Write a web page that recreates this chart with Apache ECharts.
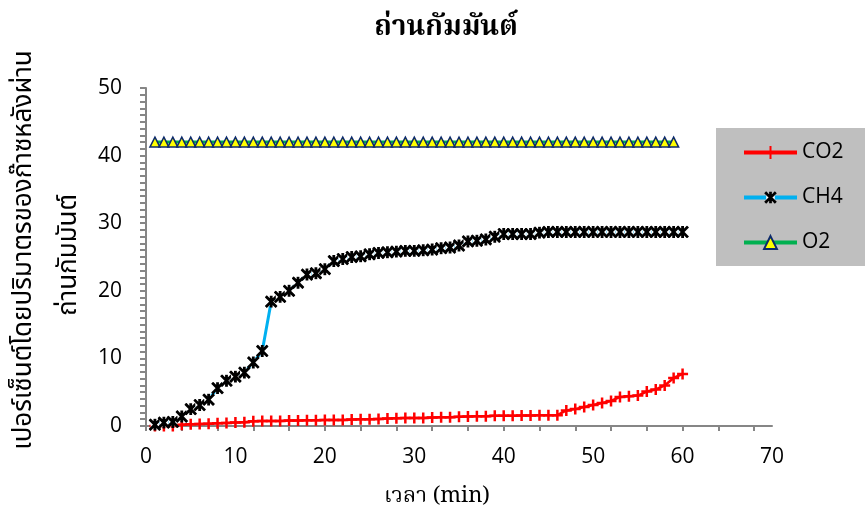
<!DOCTYPE html>
<html>
<head>
<meta charset="utf-8">
<script src="https://cdn.jsdelivr.net/npm/echarts@6/dist/echarts.min.js"></script>
<style>
  html, body { margin: 0; padding: 0; background: #ffffff; }
  #chart { width: 865px; height: 509px; }
</style>
</head>
<body>
<div id="chart"></div>
<script>
// Time axis (minutes) and measured gas volume percentages
const minutes = [1,2,3,4,5,6,7,8,9,10,11,12,13,14,15,16,17,18,19,20,
                 21,22,23,24,25,26,27,28,29,30,31,32,33,34,35,36,37,38,39,40,
                 41,42,43,44,45,46,47,48,49,50,51,52,53,54,55,56,57,58,59,60];

const co2 = [0,0,0,0.2,0.25,0.3,0.35,0.4,0.45,0.5,
             0.55,0.7,0.75,0.75,0.75,0.8,0.8,0.85,0.85,0.9,
             0.9,0.9,0.95,1.0,1.0,1.05,1.1,1.15,1.2,1.2,
             1.2,1.25,1.3,1.3,1.35,1.4,1.45,1.45,1.5,1.5,
             1.5,1.55,1.55,1.6,1.6,1.6,2.3,2.5,2.8,3.1,
             3.4,3.7,4.3,4.4,4.5,5.1,5.4,6.0,7.1,7.7];

const ch4 = [0.2,0.5,0.6,1.4,2.5,3.1,3.9,5.6,6.7,7.3,
             7.9,9.4,11.1,18.4,19.1,20.0,21.2,22.4,22.6,23.2,
             24.4,24.7,25.0,25.1,25.4,25.6,25.7,25.8,25.9,25.9,
             26.0,26.1,26.3,26.4,26.7,27.3,27.4,27.6,28.0,28.4,
             28.4,28.4,28.4,28.6,28.7,28.7,28.7,28.7,28.7,28.7,
             28.7,28.7,28.7,28.7,28.7,28.7,28.7,28.7,28.7,28.7];

const o2 = [42,42,42,42,42,42,42,42,42,42,42,42,42,42,42,42,42,42,42,42,
            42,42,42,42,42,42,42,42,42,42,42,42,42,42,42,42,42,42,42,42,
            42,42,42,42,42,42,42,42,42,42,42,42,42,42,42,42,42,42,42];

// Axis ticks and labels
const xLabels = [0,10,20,30,40,50,60,70];
const xTicks = [0,4,8,12,16,20,24,28,32,36,40,44,48,52,56,60,64,68];
const yLabels = [0,10,20,30,40,50];

const seriesNames = ['CO2', 'CH4', 'O2'];
const chartTitle = 'ถ่านกัมมันต์';
const yTitle1 = 'เปอร์เซ็นต์โดยปริมาตรของก๊าซหลังผ่าน';
const yTitle2 = 'ถ่านกัมมันต์';
const xTitle = 'เวลา (min)';

const pairs = (xs, ys) => ys.map((v, i) => [xs[i], v]);

const thaiSerif = "'Noto Serif Thai','Norasi','Liberation Serif','DejaVu Serif',serif";
const thaiSans = "'Noto Sans Thai','Garuda','Loma','Noto Sans',sans-serif";
const numFont = "'Open Sans','Noto Sans',sans-serif";

// Marker glyphs: plus (CO2), star with a small white backing (CH4)
const svgUrl = (svg) => 'image://data:image/svg+xml;charset=utf-8,' + encodeURIComponent(svg);
const plusSymbol = 'path://M5,0L5,10M0,5L10,5';
const starSymbol = svgUrl(
  "<svg xmlns='http://www.w3.org/2000/svg' width='26' height='26' viewBox='0 0 12 12'>" +
  "<rect x='2' y='2' width='8' height='8' fill='#ffffff'/>" +
  "<path d='M1,1L11,11M11,1L1,11M6,0.5L6,11.5' stroke='#000000' stroke-width='2.6' fill='none'/></svg>");

const chart = echarts.init(document.getElementById('chart'), null, { renderer: 'canvas' });

chart.setOption({
  animation: false,
  backgroundColor: '#ffffff',
  grid: { left: 146, right: 93, top: 88, bottom: 83 },
  graphic: [
    { type: 'text', x: 446, y: 30,
      style: { text: chartTitle, font: "bold 28px " + thaiSerif, fill: '#000',
               textAlign: 'center', textVerticalAlign: 'middle' } },
    { type: 'text', x: 26, y: 250, rotation: Math.PI / 2,
      style: { text: yTitle1, font: "26px " + thaiSans, fill: '#000',
               textAlign: 'center', textVerticalAlign: 'middle' } },
    { type: 'text', x: 71, y: 255, rotation: Math.PI / 2,
      style: { text: yTitle2, font: "26px " + thaiSans, fill: '#000',
               textAlign: 'center', textVerticalAlign: 'middle' } },
    { type: 'text', x: 437, y: 498,
      style: { text: xTitle, font: "22px " + thaiSerif, fill: '#000',
               textAlign: 'center', textVerticalAlign: 'middle' } }
  ],
  legend: {
    data: seriesNames,
    orient: 'vertical',
    left: 716, top: 128,
    backgroundColor: '#bfbfbf',
    padding: [14, 40, 13, 26],
    itemWidth: 53, itemHeight: 16, itemGap: 24,
    lineStyle: { width: 4 },
    textStyle: { fontFamily: numFont, fontSize: 21, lineHeight: 20, color: '#000' }
  },
  xAxis: {
    type: 'value', min: 0, max: 70, interval: 10,
    splitLine: { show: false },
    axisLine: { lineStyle: { color: '#868686', width: 2 } },
    axisTick: { show: true, customValues: xTicks, length: 5, lineStyle: { color: '#868686', width: 2 } },
    axisLabel: { customValues: xLabels, margin: 21, fontFamily: numFont, fontSize: 21, color: '#000' }
  },
  yAxis: {
    type: 'value', min: 0, max: 50, interval: 10,
    splitLine: { show: false },
    axisLine: { show: true, lineStyle: { color: '#868686', width: 2 } },
    axisTick: { show: true, length: 6, lineStyle: { color: '#868686', width: 2 } },
    minorTick: { show: true, splitNumber: 10, length: 6, lineStyle: { color: '#868686', width: 2 } },
    axisLabel: { customValues: yLabels, margin: 24, fontFamily: numFont, fontSize: 21, color: '#000' }
  },
  series: [
    { name: 'CO2', type: 'line', data: pairs(minutes, co2),
      showAllSymbol: true, symbol: plusSymbol, symbolSize: 11,
      lineStyle: { color: '#ff0000', width: 2.5 },
      itemStyle: { color: '#ff0000', borderColor: '#ff0000', borderWidth: 2.5 } },
    { name: 'CH4', type: 'line', data: pairs(minutes, ch4),
      showAllSymbol: true, symbol: starSymbol, symbolSize: 13,
      lineStyle: { color: '#00b0f0', width: 3 },
      itemStyle: { color: '#000000' } },
    { name: 'O2', type: 'line', data: pairs(minutes, o2),
      showAllSymbol: true, symbol: 'triangle', symbolSize: [10, 10],
      lineStyle: { color: '#00b050', width: 3 },
      itemStyle: { color: '#ffff00', borderColor: '#0d2a6b', borderWidth: 1.5 } }
  ]
});
</script>
</body>
</html>
